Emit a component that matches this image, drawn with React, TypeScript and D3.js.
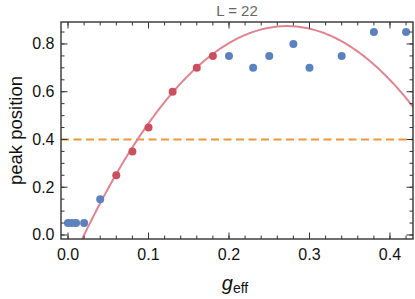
import React from "react";
import * as d3 from "d3";

const blueX = [0.0, 0.005, 0.01, 0.02, 0.04, 0.2, 0.23, 0.25, 0.28, 0.3, 0.34, 0.38, 0.42];
const blueY = [0.05, 0.05, 0.05, 0.05, 0.15, 0.75, 0.7, 0.75, 0.8, 0.7, 0.75, 0.85, 0.85];
const redX = [0.06, 0.08, 0.1, 0.13, 0.16, 0.18];
const redY = [0.25, 0.35, 0.45, 0.6, 0.7, 0.75];
// quadratic fit coefficients: y = c0 + c1 g + c2 g^2
const fitCoef = [-0.1445, 7.496, -13.78];
const threshold = 0.4;
const xTicks = [0, 0.1, 0.2, 0.3, 0.4];
const yTicks = [0, 0.2, 0.4, 0.6, 0.8];
const title = "L = 22";

const W = 415, H = 299;
const L = 61, R = 413, T = 22, B = 239;

export default function App() {
  const x = d3.scaleLinear().domain([-0.0087, 0.4286]).range([L, R]);
  const y = d3.scaleLinear().domain([-0.0168, 0.892]).range([B, T]);
  const fit = (g: number) => fitCoef[0] + fitCoef[1] * g + fitCoef[2] * g * g;
  const gs = d3.range(0.0, 0.44, 0.002);
  const line = d3.line<number>().x((g) => x(g)).y((g) => y(fit(g)));
  const xMinor = d3.range(-0.0, 0.43, 0.02).filter((v) => x(v) >= L && x(v) <= R);
  const yMinor = d3.range(0, 0.9, 0.05).filter((v) => y(v) >= T && y(v) <= B);
  const frame = "#333";
  const blue = "#5B82BE";
  const red = "#C9515F";
  const font = "'Liberation Sans', Arial, sans-serif";
  return (
    <svg width={W} height={H} style={{ position: "absolute", left: 0, top: 0, background: "#fff" }} fontFamily={font}>
      <defs>
        <clipPath id="plotclip">
          <rect x={L} y={T} width={R - L} height={B - T} />
        </clipPath>
      </defs>
      <g clipPath="url(#plotclip)">
        <line x1={L} x2={R} y1={y(threshold)} y2={y(threshold)} stroke="#E8993F" strokeWidth={2} strokeDasharray="8,4.5" />
        <path d={line(gs) || ""} fill="none" stroke="#DE8591" strokeWidth={2} />
        {blueX.map((g, i) => (
          <circle key={"b" + i} cx={x(g)} cy={y(blueY[i])} r={4} fill={blue} />
        ))}
        {redX.map((g, i) => (
          <circle key={"r" + i} cx={x(g)} cy={y(redY[i])} r={4} fill={red} />
        ))}
      </g>
      {xMinor.map((v, i) => (
        <g key={"xm" + i} stroke={frame} strokeWidth={1}>
          <line x1={x(v)} x2={x(v)} y1={B} y2={B - 3.5} />
          <line x1={x(v)} x2={x(v)} y1={T} y2={T + 3.5} />
        </g>
      ))}
      {yMinor.map((v, i) => (
        <g key={"ym" + i} stroke={frame} strokeWidth={1}>
          <line x1={L} x2={L + 3.5} y1={y(v)} y2={y(v)} />
          <line x1={R} x2={R - 3.5} y1={y(v)} y2={y(v)} />
        </g>
      ))}
      {xTicks.map((v, i) => (
        <g key={"xt" + i}>
          <line x1={x(v)} x2={x(v)} y1={B} y2={B - 6.5} stroke={frame} strokeWidth={1} />
          <line x1={x(v)} x2={x(v)} y1={T} y2={T + 6.5} stroke={frame} strokeWidth={1} />
          <text x={x(v)} y={260} textAnchor="middle" fontSize={16} fill="#111">{v.toFixed(1)}</text>
        </g>
      ))}
      {yTicks.map((v, i) => (
        <g key={"yt" + i}>
          <line x1={L} x2={L + 6.5} y1={y(v)} y2={y(v)} stroke={frame} strokeWidth={1} />
          <line x1={R} x2={R - 6.5} y1={y(v)} y2={y(v)} stroke={frame} strokeWidth={1} />
          <text x={54.5} y={y(v) + 5.5} textAnchor="end" fontSize={16} fill="#111">{v.toFixed(1)}</text>
        </g>
      ))}
      <rect x={L} y={T} width={R - L} height={B - T} fill="none" stroke={frame} strokeWidth={1.4} />
      <text x={(L + R) / 2} y={16} textAnchor="middle" fontSize={15} fill="#666">{title}</text>
      <text transform={`translate(21.5,${(T + B) / 2}) rotate(-90)`} textAnchor="middle" fontSize={18.5} fill="#111">peak position</text>
      <text x={235} y={290} textAnchor="middle" fill="#111">
        <tspan fontSize={20} fontStyle="italic">g</tspan>
        <tspan fontSize={14} dy={3}>eff</tspan>
      </text>
    </svg>
  );
}
